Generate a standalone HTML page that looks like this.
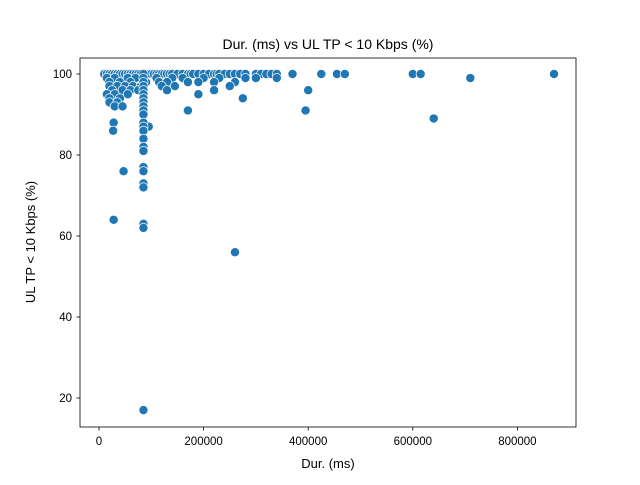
<!DOCTYPE html>
<html><head><meta charset="utf-8"><style>
body{margin:0;background:#fff;}
svg text{font-family:"Liberation Sans","DejaVu Sans",sans-serif;fill:#000;}
</style></head><body>
<svg id="chart" width="640" height="480" viewBox="0 0 640 480">
<rect width="640" height="480" fill="#fff"/>
<text x="328" y="49" font-size="14" text-anchor="middle">Dur. (ms) vs UL TP &lt; 10 Kbps (%)</text>
<g id="points"></g>
<rect x="80" y="58" width="496" height="369" fill="none" stroke="#000" stroke-width="0.8"/>
<g id="xticks"></g>
<g id="yticks"></g>
<text x="328" y="468" font-size="13" text-anchor="middle">Dur. (ms)</text>
<text transform="translate(35,242) rotate(-90)" font-size="13" text-anchor="middle">UL TP &lt; 10 Kbps (%)</text>
</svg>
<script>
const durK = [10,15,20,25,30,35,40,45,50,55,60,65,70,75,80,90,95,100,105,110,115,120,125,130,135,140,150,160,170,175,180,190,200,210,220,225,230,240,250,260,270,280,300,310,320,330,340,370,425,455,470,600,615,870,
15,30,55,70,110,140,160,200,230,280,300,340,710,
20,40,60,90,115,130,170,190,220,260,
20,35,50,65,80,120,145,250,
25,45,60,75,130,220,400,
15,30,55,190,
20,40,275,
20,35,30,45,170,395,640,28,95,27,47,28,260,
85,85,85,85,85,85,85,85,85,85,85,85,85,85,85,85,85,85,85,85,85,85,85,85];
const ulPct = [100,100,100,100,100,100,100,100,100,100,100,100,100,100,100,100,100,100,100,100,100,100,100,100,100,100,100,100,100,100,100,100,100,100,100,100,100,100,100,100,100,100,100,100,100,100,100,100,100,100,100,100,100,100,
99,99,99,99,99,99,99,99,99,99,99,99,99,
98,98,98,98,98,98,98,98,98,98,
97,97,97,97,97,97,97,97,
96,96,96,96,96,96,96,
95,95,95,95,
94,94,94,
93,93,92,92,91,91,89,88,87,86,76,64,56,
100,99,98,97,96,95,94,93,92,91,90,88,87,86,84,82,81,77,76,73,72,63,62,17];
const xTicks = [0,200000,400000,600000,800000];
const yTicks = [20,40,60,80,100];
const NS='http://www.w3.org/2000/svg';
const xs = v => 99 + v * (104.6/200000);
const ys = v => 74 + (100 - v) * 4.05;
const pts = document.getElementById('points');
for (let i = 0; i < durK.length; i++) {
  const c = document.createElementNS(NS,'circle');
  c.setAttribute('cx', xs(durK[i]*1000));
  c.setAttribute('cy', ys(ulPct[i]));
  c.setAttribute('r', 4.6);
  c.setAttribute('fill', '#1f77b4');
  c.setAttribute('stroke', '#fff');
  c.setAttribute('stroke-width', 0.75);
  
  
  pts.appendChild(c);
}
const xg = document.getElementById('xticks');
xTicks.forEach(t => {
  const x = xs(t);
  const l = document.createElementNS(NS,'line');
  l.setAttribute('x1',x);l.setAttribute('x2',x);l.setAttribute('y1',427);l.setAttribute('y2',430.5);
  l.setAttribute('stroke','#000');l.setAttribute('stroke-width',0.8);
  
  
  xg.appendChild(l);
  const tx = document.createElementNS(NS,'text');
  tx.setAttribute('x',x);tx.setAttribute('y',445);tx.setAttribute('font-size',11.5);tx.setAttribute('text-anchor','middle');
  tx.textContent = String(t);
  
  
  xg.appendChild(tx);
});
const yg = document.getElementById('yticks');
yTicks.forEach(t => {
  const y = ys(t);
  const l = document.createElementNS(NS,'line');
  l.setAttribute('x1',76.5);l.setAttribute('x2',80);l.setAttribute('y1',y);l.setAttribute('y2',y);
  l.setAttribute('stroke','#000');l.setAttribute('stroke-width',0.8);
  
  
  yg.appendChild(l);
  const tx = document.createElementNS(NS,'text');
  tx.setAttribute('x',72);tx.setAttribute('y',y+4);tx.setAttribute('font-size',11.5);tx.setAttribute('text-anchor','end');
  tx.textContent = String(t);
  
  
  yg.appendChild(tx);
});
</script>
</body></html>
